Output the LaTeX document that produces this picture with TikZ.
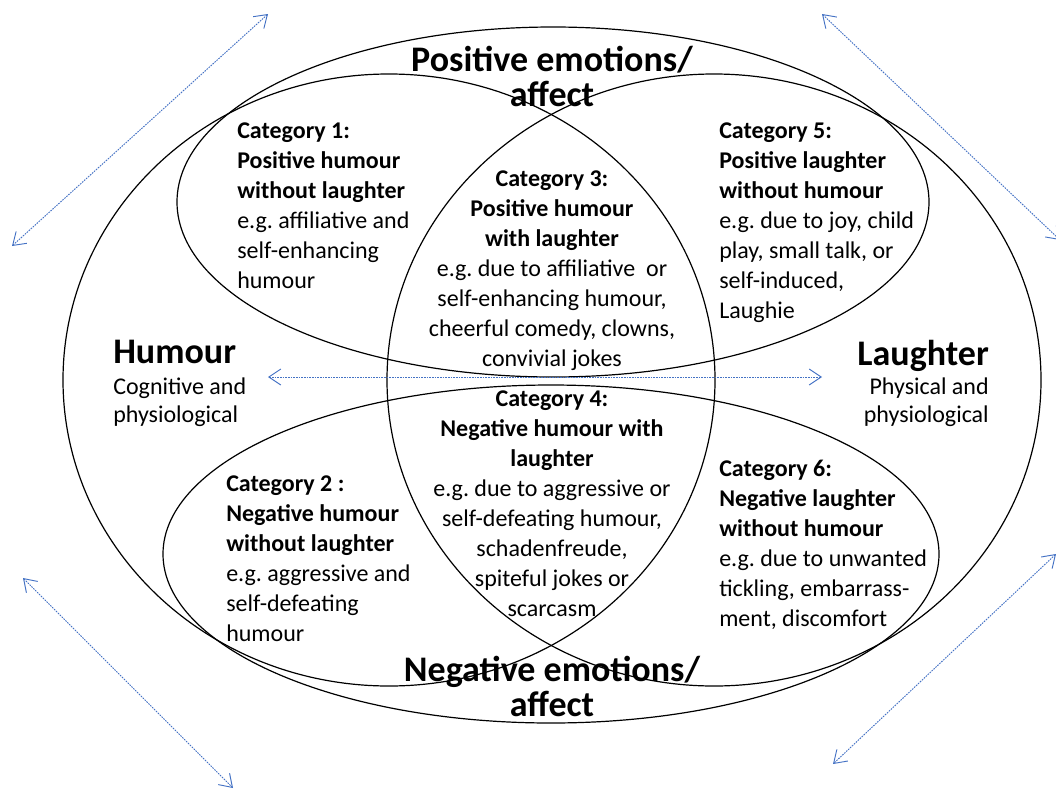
\documentclass[tikz,border=0pt]{standalone}
\usepackage{fontspec}
\setmainfont{Carlito}
\usetikzlibrary{arrows.meta}
\definecolor{arrowblue}{RGB}{68,114,196}
\frenchspacing
\begin{document}
\begin{tikzpicture}[x=0.75pt,y=-0.75pt,
  ell/.style={draw=black,line width=0.9pt},
  dbl/.style={draw=arrowblue,line width=0.7pt,dash pattern=on 1.2pt off 0.8pt,
    {Straight Barb[length=9pt,width=12pt]}-{Straight Barb[length=9pt,width=12pt]}},
  cat/.style={font=\fontsize{18}{22.5}\selectfont,inner sep=0pt},
  sub/.style={font=\fontsize{18}{21}\selectfont,inner sep=0pt},
  big/.style={font=\bfseries\fontsize{27}{26.25}\selectfont,inner sep=0pt,align=center}]
\useasboundingbox (0,0) rectangle (1056,789);

% ellipses
\draw[ell] (389,380) ellipse [x radius=326, y radius=306];
\draw[ell] (714,380) ellipse [x radius=327, y radius=306];
\draw[ell] (553,202) ellipse [x radius=376, y radius=175];
\draw[ell] (551,554) ellipse [x radius=388, y radius=169];

% titles
\node[big,anchor=north] (pos) at (552,46) {Positive emotions/\\affect};
\node[big,anchor=north] (neg) at (552,656) {Negative emotions/\\affect};

\node[big,anchor=north west] (hum) at (113,340) {Humour};
\node[sub,anchor=north west,align=left] (humsub) at (113,378) {Cognitive and\\physiological};
\node[big,anchor=north east] (lau) at (989,340) {Laughter};
\node[sub,anchor=north east,align=right] (lausub) at (989,378) {Physical and\\physiological};

% categories
\node[cat,anchor=north west,align=left] (c1) at (237,122)
  {\textbf{Category 1:}\\\textbf{Positive humour}\\\textbf{without laughter}\\e.g. affiliative and\\self-enhancing\\humour};
\node[cat,anchor=north,align=center] (c3) at (552,170)
  {\textbf{Category 3:}\\\textbf{Positive humour}\\\textbf{with laughter}\\e.g. due to affiliative~ or\\self-enhancing humour,\\cheerful comedy, clowns,\\convivial jokes};
\node[cat,anchor=north west,align=left] (c5) at (719,122)
  {\textbf{Category 5:}\\\textbf{Positive laughter}\\\textbf{without humour}\\e.g. due to joy, child\\play, small talk, or\\self-induced,\\Laughie};
\node[cat,anchor=north west,align=left] (c2) at (226,475)
  {\textbf{Category 2 :}\\\textbf{Negative humour}\\\textbf{without laughter}\\e.g. aggressive and\\self-defeating\\humour};
\node[cat,anchor=north,align=center] (c4) at (552,390)
  {\textbf{Category 4:}\\\textbf{Negative humour with}\\\textbf{laughter}\\e.g. due to aggressive or\\self-defeating humour,\\schadenfreude,\\spiteful jokes or\\scarcasm};
\node[cat,anchor=north west,align=left] (c6) at (719,460)
  {\textbf{Category 6:}\\\textbf{Negative laughter}\\\textbf{without humour}\\e.g. due to unwanted\\tickling, embarrass-\\ment, discomfort};

% arrows
\coordinate (tl1) at (12,246);
\coordinate (tl2) at (268,14);
\coordinate (tr1) at (822,14);
\coordinate (tr2) at (1060,240);
\coordinate (bl1) at (23,578);
\coordinate (bl2) at (233,788);
\coordinate (br1) at (1056,554);
\coordinate (br2) at (833,764);
\coordinate (ml) at (268,377);
\coordinate (mr) at (822,377);
\draw[dbl] (tl1) -- (tl2);
\draw[dbl] (tr1) -- (tr2);
\draw[dbl] (bl1) -- (bl2);
\draw[dbl] (br1) -- (br2);
\draw[dbl] (ml) -- (mr);
\end{tikzpicture}
\end{document}
